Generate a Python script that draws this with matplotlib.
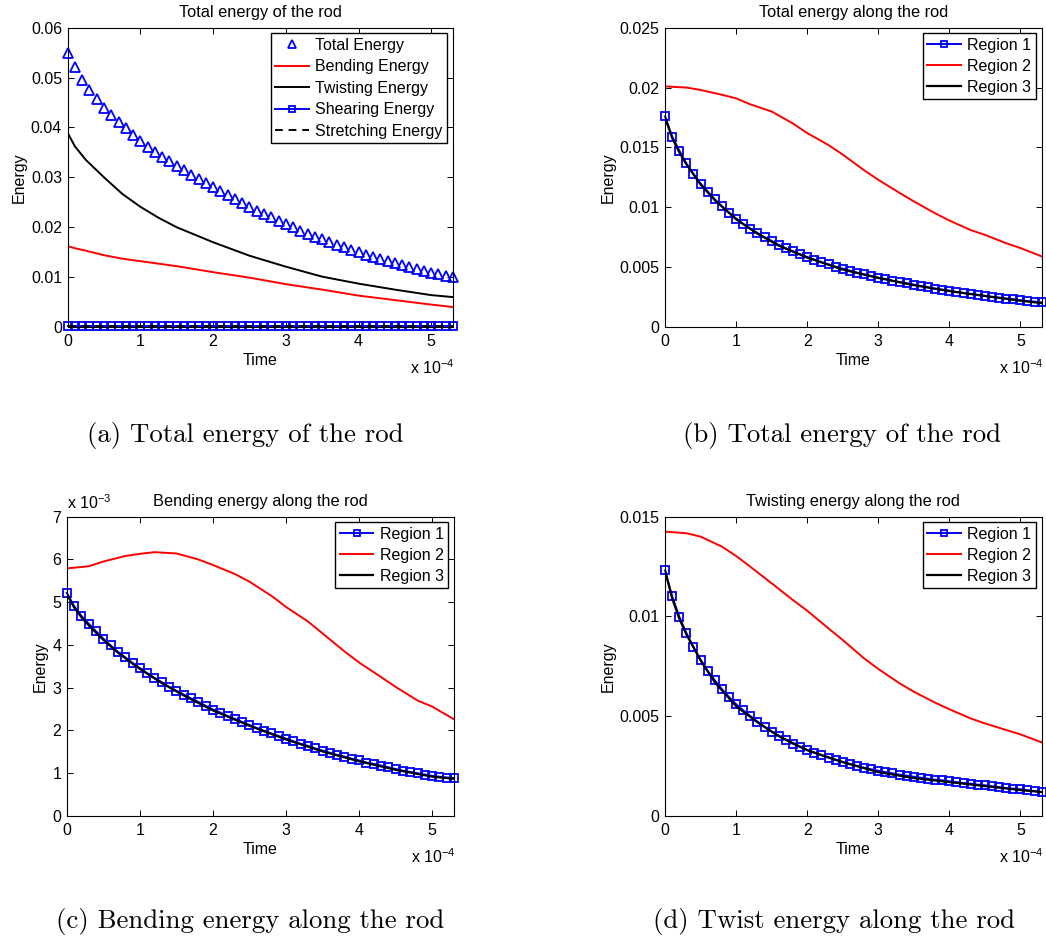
import matplotlib
matplotlib.use('Agg')
import matplotlib.pyplot as plt

# ---------------- data (time in units of 1e-4) ----------------
time = [0.0, 0.1, 0.2, 0.3, 0.4, 0.5, 0.6, 0.7, 0.8, 0.9,
        1.0, 1.1, 1.2, 1.3, 1.4, 1.5, 1.6, 1.7, 1.8, 1.9,
        2.0, 2.1, 2.2, 2.3, 2.4, 2.5, 2.6, 2.7, 2.8, 2.9,
        3.0, 3.1, 3.2, 3.3, 3.4, 3.5, 3.6, 3.7, 3.8, 3.9,
        4.0, 4.1, 4.2, 4.3, 4.4, 4.5, 4.6, 4.7, 4.8, 4.9,
        5.0, 5.1, 5.2, 5.3]

# (a) total energy of the rod
total_energy = [0.0550, 0.0521, 0.0495, 0.0475, 0.0457, 0.0440, 0.0425, 0.0410, 0.0398, 0.0385,
                0.0373, 0.0361, 0.0351, 0.0341, 0.0332, 0.0322, 0.0314, 0.0305, 0.0296, 0.0288,
                0.0280, 0.0272, 0.0264, 0.0256, 0.0248, 0.0241, 0.0233, 0.0227, 0.0220, 0.0213,
                0.0207, 0.0200, 0.0193, 0.0187, 0.0181, 0.0176, 0.0171, 0.0165, 0.0160, 0.0155,
                0.0150, 0.0145, 0.0140, 0.0136, 0.0132, 0.0128, 0.0124, 0.0120, 0.0116, 0.0112,
                0.0108, 0.0106, 0.0103, 0.0101]
time_a = [0.0, 0.1, 0.25, 0.5, 0.75, 1.0, 1.25, 1.5, 2.0, 2.5, 3.0, 3.5, 4.0, 4.5, 5.0, 5.3]
bending_energy = [0.0162, 0.0158, 0.0153, 0.0144, 0.0137, 0.0132, 0.0127, 0.0122, 0.0110,
                  0.0099, 0.0086, 0.0075, 0.0063, 0.0054, 0.0045, 0.0040]
twisting_energy = [0.0389, 0.0362, 0.0335, 0.0300, 0.0267, 0.0241, 0.0219, 0.0200, 0.0170,
                   0.0143, 0.0121, 0.0101, 0.0087, 0.0075, 0.0064, 0.0060]
shearing_energy = [0.0003, 0.0003, 0.0003, 0.0003, 0.0003, 0.0003, 0.0003, 0.0003, 0.0003, 0.0003,
                   0.0003, 0.0003, 0.0003, 0.0003, 0.0003, 0.0003, 0.0003, 0.0003, 0.0003, 0.0003,
                   0.0003, 0.0003, 0.0003, 0.0003, 0.0003, 0.0003, 0.0003, 0.0003, 0.0003, 0.0003,
                   0.0003, 0.0003, 0.0003, 0.0003, 0.0003, 0.0003, 0.0003, 0.0003, 0.0003, 0.0003,
                   0.0003, 0.0003, 0.0003, 0.0003, 0.0003, 0.0003, 0.0003, 0.0003, 0.0003, 0.0003,
                   0.0003, 0.0003, 0.0003, 0.0003]
time_stretch = [0.0, 5.3]
stretching_energy = [0.0003, 0.0003]

# grids for the plain lines of (b)-(d)
time_r2 = [0.0, 0.3, 0.5, 0.8, 1.0, 1.2, 1.5, 1.8, 2.0, 2.3, 2.5, 2.8, 3.0, 3.3, 3.5,
           3.8, 4.0, 4.3, 4.5, 4.8, 5.0, 5.3]
time_r3 = [0.0, 0.1, 0.2, 0.3, 0.5, 0.7, 1.0, 1.3, 1.6, 2.0, 2.5, 3.0, 3.5, 4.0, 4.5, 5.0, 5.3]

# (b) total energy along the rod
total_r1 = [0.01759, 0.01591, 0.01474, 0.01366, 0.01279, 0.01198, 0.01132, 0.01067, 0.01009, 0.00956,
            0.00906, 0.00861, 0.00822, 0.00786, 0.00750, 0.00719, 0.00686, 0.00658, 0.00633, 0.00608,
            0.00585, 0.00563, 0.00543, 0.00524, 0.00504, 0.00488, 0.00471, 0.00454, 0.00440, 0.00426,
            0.00412, 0.00401, 0.00387, 0.00376, 0.00365, 0.00354, 0.00343, 0.00332, 0.00320, 0.00312,
            0.00304, 0.00293, 0.00284, 0.00276, 0.00268, 0.00259, 0.00251, 0.00245, 0.00237, 0.00231,
            0.00223, 0.00217, 0.00212, 0.00205]
total_r2 = [0.0201, 0.0200, 0.0198, 0.0194, 0.0191, 0.0186, 0.0180, 0.0170, 0.0162, 0.0152, 0.0144,
            0.0131, 0.0123, 0.0112, 0.0105, 0.0095, 0.0089, 0.0081, 0.0077, 0.0070, 0.0066, 0.0059]
total_r3 = [0.0175, 0.0158, 0.0146, 0.0136, 0.0119, 0.0106, 0.0090, 0.0078, 0.0068, 0.0058,
            0.0048, 0.0041, 0.0035, 0.0030, 0.0026, 0.0022, 0.0020]

# (c) bending energy along the rod (units of 1e-3)
bend_r1 = [5.22, 4.91, 4.68, 4.50, 4.32, 4.15, 3.99, 3.84, 3.71, 3.58,
           3.46, 3.34, 3.23, 3.13, 3.02, 2.93, 2.84, 2.75, 2.67, 2.58,
           2.49, 2.42, 2.34, 2.27, 2.20, 2.13, 2.06, 1.99, 1.93, 1.87,
           1.81, 1.75, 1.69, 1.64, 1.58, 1.53, 1.48, 1.43, 1.39, 1.34,
           1.30, 1.25, 1.22, 1.18, 1.14, 1.10, 1.06, 1.03, 1.00, 0.97,
           0.94, 0.92, 0.90, 0.89]
bend_r2 = [5.79, 5.84, 5.95, 6.08, 6.13, 6.17, 6.14, 6.00, 5.87, 5.66, 5.48,
           5.15, 4.89, 4.55, 4.27, 3.85, 3.59, 3.25, 3.02, 2.70, 2.56, 2.26]
bend_r3 = [5.20, 4.88, 4.65, 4.46, 4.12, 3.82, 3.44, 3.11, 2.82, 2.47,
           2.11, 1.79, 1.51, 1.28, 1.08, 0.92, 0.87]

# (d) twisting energy along the rod
twist_r1 = [0.01231, 0.01101, 0.00999, 0.00917, 0.00847, 0.00783, 0.00727, 0.00680, 0.00636, 0.00596,
            0.00560, 0.00530, 0.00501, 0.00473, 0.00446, 0.00423, 0.00403, 0.00381, 0.00362, 0.00346,
            0.00331, 0.00317, 0.00304, 0.00292, 0.00281, 0.00271, 0.00261, 0.00251, 0.00242, 0.00234,
            0.00227, 0.00220, 0.00214, 0.00207, 0.00202, 0.00197, 0.00192, 0.00187, 0.00182, 0.00179,
            0.00174, 0.00170, 0.00165, 0.00162, 0.00157, 0.00154, 0.00149, 0.00145, 0.00140, 0.00137,
            0.00134, 0.00129, 0.00125, 0.00120]
twist_r2 = [0.01425, 0.01417, 0.01400, 0.01350, 0.01303, 0.01249, 0.01166, 0.01082, 0.01029, 0.00940,
            0.00882, 0.00790, 0.00737, 0.00665, 0.00623, 0.00568, 0.00535, 0.00489, 0.00464, 0.00431,
            0.00409, 0.00369]
twist_r3 = [0.0123, 0.0109, 0.0099, 0.0091, 0.0078, 0.0067, 0.0055, 0.0047, 0.0040, 0.0033,
            0.0027, 0.0022, 0.0019, 0.0017, 0.0015, 0.0013, 0.0012]

x_ticks = [0, 1, 2, 3, 4, 5]
x_ticklabels = ['0', '1', '2', '3', '4', '5']
yticks_a = [0, 0.01, 0.02, 0.03, 0.04, 0.05, 0.06]
yticklabels_a = ['0', '0.01', '0.02', '0.03', '0.04', '0.05', '0.06']
yticks_b = [0, 0.005, 0.01, 0.015, 0.02, 0.025]
yticklabels_b = ['0', '0.005', '0.01', '0.015', '0.02', '0.025']
yticks_c = [0, 1, 2, 3, 4, 5, 6, 7]
yticklabels_c = ['0', '1', '2', '3', '4', '5', '6', '7']
yticks_d = [0, 0.005, 0.01, 0.015]
yticklabels_d = ['0', '0.005', '0.01', '0.015']

titles = ['Total energy of the rod', 'Total energy along the rod',
          'Bending energy along the rod', 'Twisting energy along the rod']
captions = ['(a) Total energy of the rod', '(b) Total energy of the rod',
            '(c) Bending energy along the rod', '(d) Twist energy along the rod']
legend_a = ['Total Energy', 'Bending Energy', 'Twisting Energy', 'Shearing Energy', 'Stretching Energy']
legend_r = ['Region 1', 'Region 2', 'Region 3']

# ---------------- style ----------------
plt.rcParams.update({
    'font.family': ['Liberation Sans', 'DejaVu Sans'],
    'font.size': 11.5,
    'mathtext.fontset': 'custom',
    'mathtext.rm': 'Liberation Sans',
    'mathtext.it': 'Liberation Sans:italic',
    'mathtext.bf': 'Liberation Sans:bold',
    'axes.linewidth': 0.8,
    'xtick.direction': 'in', 'ytick.direction': 'in',
    'xtick.top': True, 'ytick.right': True,
    'xtick.major.size': 4, 'ytick.major.size': 4,
    'xtick.major.width': 0.7, 'ytick.major.width': 0.7,
    'xtick.major.pad': 5, 'ytick.major.pad': 4,
    'axes.labelpad': 3,
})

BLUE = '#0000ff'
RED = '#ff0000'
BLACK = '#000000'
LW = 1.4
MS_SQ = 5.3
MS_TRI = 6.8

fig = plt.figure(figsize=(10.46, 9.36), dpi=100)
axA = fig.add_axes([0.0647, 0.6506, 0.3684, 0.3198])
axB = fig.add_axes([0.6358, 0.6506, 0.3601, 0.3198])
axC = fig.add_axes([0.0638, 0.1282, 0.3703, 0.3198])
axD = fig.add_axes([0.6358, 0.1282, 0.3601, 0.3198])


def style(ax, title, yt, ytl, ymax):
    ax.set_xlim(0, 5.3)
    ax.set_ylim(0, ymax)
    ax.set_xticks(x_ticks)
    ax.set_xticklabels(x_ticklabels)
    ax.set_yticks(yt)
    ax.set_yticklabels(ytl)
    ax.set_title(title, fontsize=11.8, pad=8)
    ax.set_xlabel('Time')
    ax.set_ylabel('Energy')
    ax.text(1.005, -0.137, r'x 10$^{-4}$', transform=ax.transAxes, ha='right', va='center')


def legend(ax, labels, spacing):
    leg = ax.legend(labels, loc='upper right', frameon=True, fancybox=False,
                    edgecolor='black', framealpha=1, borderaxespad=0.35,
                    handlelength=2.1, handletextpad=0.4, labelspacing=spacing,
                    borderpad=0.3, fontsize=11.5, markerscale=0.75)
    leg.get_frame().set_linewidth(1.0)


# (a)
axA.plot(time, total_energy, linestyle='none', marker='^', ms=MS_TRI, mfc='none',
         mec=BLUE, mew=1.3, clip_on=False)
axA.plot(time_a, bending_energy, color=RED, lw=LW)
axA.plot(time_a, twisting_energy, color=BLACK, lw=LW)
axA.plot(time, shearing_energy, color=BLUE, lw=LW, marker='s', ms=MS_SQ, mfc='none',
         mec=BLUE, mew=1.3, clip_on=False)
axA.plot(time_stretch, stretching_energy, color=BLACK, lw=LW, linestyle='--', dashes=(4, 3))
style(axA, titles[0], yticks_a, yticklabels_a, 0.06)
legend(axA, legend_a, 0.4)

# (b)-(d)
for ax, r1, r2, r3, yt, ytl, ymax, ttl in [
        (axB, total_r1, total_r2, total_r3, yticks_b, yticklabels_b, 0.025, titles[1]),
        (axC, bend_r1, bend_r2, bend_r3, yticks_c, yticklabels_c, 7, titles[2]),
        (axD, twist_r1, twist_r2, twist_r3, yticks_d, yticklabels_d, 0.015, titles[3])]:
    ax.plot(time, r1, color=BLUE, lw=LW, marker='s', ms=MS_SQ, mfc='none',
            mec=BLUE, mew=1.3, clip_on=False)
    ax.plot(time_r2, r2, color=RED, lw=LW)
    ax.plot(time_r3, r3, color=BLACK, lw=LW + 0.2)
    style(ax, ttl, yt, ytl, ymax)
    legend(ax, legend_r, 0.36)

axC.text(0.0, 1.046, r'x 10$^{-3}$', transform=axC.transAxes, ha='left', va='center')

# captions
cap_pos = [(0.234, 0.535), (0.805, 0.535), (0.239, 0.015), (0.797, 0.015)]
for (cx, cy), cap in zip(cap_pos, captions):
    fig.text(cx, cy, cap, family='cmr10', fontsize=19.3, ha='center', va='center')

fig.savefig('out.png', dpi=100)
